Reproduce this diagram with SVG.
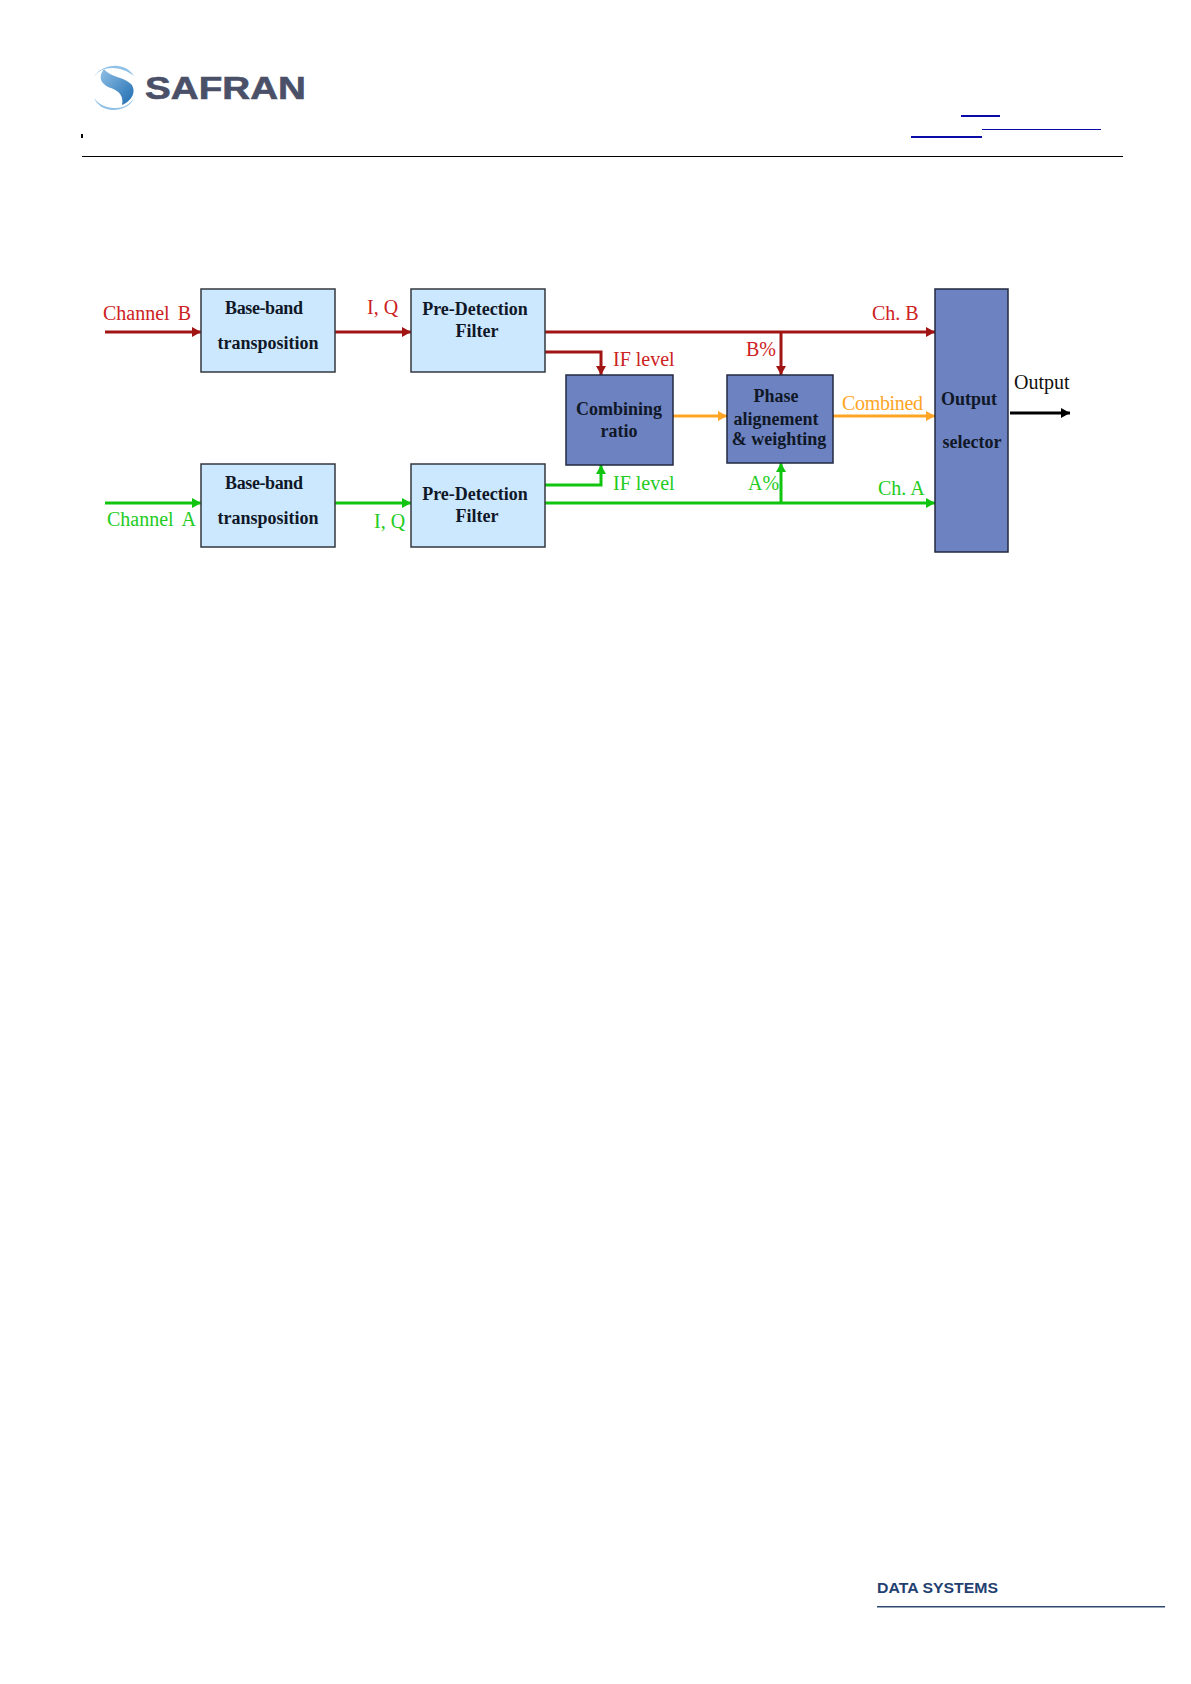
<svg xmlns="http://www.w3.org/2000/svg" width="1191" height="1684" viewBox="0 0 1191 1684">
<style>
.lt{fill:#cce8ff;stroke:#33383f;stroke-width:1.5}
.dk{fill:#6d82c0;stroke:#232a40;stroke-width:1.5}
.b{font:bold 18px "Liberation Serif",serif;fill:#101828;text-anchor:middle}
.l{font:20px "Liberation Serif",serif}
.r{fill:#cc2222}.g{fill:#22cc22}.o{fill:#ffa526}
.w{fill:none;stroke-width:3}
.cr{stroke:#a01414}.cg{stroke:#10c410}.co{stroke:#ffa526}.ck{stroke:#000}
</style>
<defs>
<marker id="ar" markerUnits="userSpaceOnUse" markerWidth="12" markerHeight="12" refX="10" refY="6" orient="auto"><path d="M1 1L10 6L1 11z" fill="#a01414"/></marker>
<marker id="ag" markerUnits="userSpaceOnUse" markerWidth="12" markerHeight="12" refX="10" refY="6" orient="auto"><path d="M1 1L10 6L1 11z" fill="#10c410"/></marker>
<marker id="ao" markerUnits="userSpaceOnUse" markerWidth="12" markerHeight="12" refX="10" refY="6" orient="auto"><path d="M1 1L10 6L1 11z" fill="#ffa526"/></marker>
<marker id="ak" markerUnits="userSpaceOnUse" markerWidth="12" markerHeight="12" refX="10" refY="6" orient="auto"><path d="M1 1L10 6L1 11z" fill="#000"/></marker>
<linearGradient id="sg" x1="0" y1="0" x2="1" y2="1"><stop offset="0" stop-color="#8fc0e6"/><stop offset="1" stop-color="#1f6cb0"/></linearGradient>
</defs>
<rect width="1191" height="1684" fill="#fff"/>
<g id="header">
<path d="M104 69C97 78 102 85 111 88C119 91 124 96 122 105C132 101 137 91 131 84C124 77 110 77 104 69z" fill="url(#sg)"/>
<path d="M94 77C99 68 110 65 118 66C126 67 131 71 134 76C128 71 120 68 112 68C104 68 98 71 94 77z" fill="#8fc0e6"/>
<path d="M94 98C100 106 108 108 116 108C124 108 130 104 134 98C131 106 122 110 113 110C104 110 97 105 94 98z" fill="#8fc0e6"/>
<text x="145" y="99" font-family="Liberation Sans,sans-serif" font-weight="700" font-size="31" fill="#4a5068" stroke="#4a5068" stroke-width="0.6" textLength="161" lengthAdjust="spacingAndGlyphs">SAFRAN</text>
<rect x="81" y="134" width="2" height="4" fill="#000"/>
<rect x="82" y="156" width="1041" height="1" fill="#000"/>
<rect x="961" y="115" width="39" height="2" fill="#0a0aa8"/>
<rect x="982" y="129" width="119" height="1" fill="#0a0aa8"/>
<rect x="911" y="136" width="71" height="2" fill="#0a0aa8"/>
</g>
<g id="connectors" class="w">
<path class="w cr" d="M105 332H201" marker-end="url(#ar)"/>
<path class="w cr" d="M335 332H411" marker-end="url(#ar)"/>
<path class="w cr" d="M545 332H935" marker-end="url(#ar)"/>
<path class="w cr" d="M545 352H601V375" marker-end="url(#ar)"/>
<path class="w cr" d="M781 332V375" marker-end="url(#ar)"/>
<path class="w cg" d="M105 503H201" marker-end="url(#ag)"/>
<path class="w cg" d="M335 503H411" marker-end="url(#ag)"/>
<path class="w cg" d="M545 503H935" marker-end="url(#ag)"/>
<path class="w cg" d="M545 485H601V465" marker-end="url(#ag)"/>
<path class="w cg" d="M781 503V463" marker-end="url(#ag)"/>
<path class="w co" d="M673 416H727" marker-end="url(#ao)"/>
<path class="w co" d="M833 416H935" marker-end="url(#ao)"/>
<path class="w ck" d="M1010 413H1070" marker-end="url(#ak)"/>
</g>
<g id="node-bb-b"><rect class="lt" x="201" y="289" width="134" height="83"/><text class="b" x="264" y="314" textLength="78">Base-band</text><text class="b" x="268" y="349">transposition</text></g>
<g id="node-pd-b"><rect class="lt" x="411" y="289" width="134" height="83"/><text class="b" x="475" y="315">Pre-Detection</text><text class="b" x="477" y="337">Filter</text></g>
<g id="node-bb-a"><rect class="lt" x="201" y="464" width="134" height="83"/><text class="b" x="264" y="489" textLength="78">Base-band</text><text class="b" x="268" y="524">transposition</text></g>
<g id="node-pd-a"><rect class="lt" x="411" y="464" width="134" height="83"/><text class="b" x="475" y="500">Pre-Detection</text><text class="b" x="477" y="522">Filter</text></g>
<g id="node-comb"><rect class="dk" x="566" y="375" width="107" height="90"/><text class="b" x="619" y="415">Combining</text><text class="b" x="619" y="437">ratio</text></g>
<g id="node-phase"><rect class="dk" x="727" y="375" width="106" height="88"/><text class="b" x="776" y="402">Phase</text><text class="b" x="776" y="425">alignement</text><text class="b" x="779" y="445">&amp; weighting</text></g>
<g id="node-out"><rect class="dk" x="935" y="289" width="73" height="263"/><text class="b" x="969" y="405">Output</text><text class="b" x="972" y="448">selector</text></g>
<g id="labels">
<text class="l r" x="103" y="320" word-spacing="3">Channel B</text>
<text class="l g" x="107" y="526" word-spacing="4">Channel A</text>
<text class="l r" x="367" y="314">I, Q</text>
<text class="l g" x="374" y="528">I, Q</text>
<text class="l r" x="613" y="366">IF level</text>
<text class="l g" x="613" y="490">IF level</text>
<text class="l r" x="746" y="356">B%</text>
<text class="l g" x="748" y="490">A%</text>
<text class="l r" x="872" y="320">Ch. B</text>
<text class="l g" x="878" y="495">Ch. A</text>
<text class="l o" x="842" y="410" textLength="81">Combined</text>
<text class="l" x="1014" y="389" fill="#111">Output</text>
</g>
<g id="footer">
<text x="877" y="1593" font-family="Liberation Sans,sans-serif" font-weight="700" font-size="14.5" fill="#1f4070" textLength="121" lengthAdjust="spacingAndGlyphs">DATA SYSTEMS</text>
<rect x="877" y="1606" width="288" height="1.5" fill="#2f4a70"/>
</g>
</svg>
